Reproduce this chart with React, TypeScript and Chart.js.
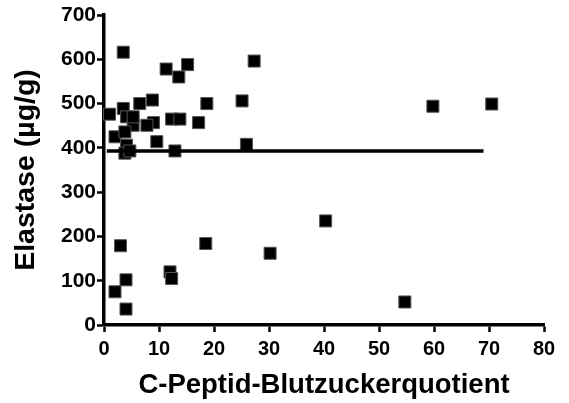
import React, { useEffect, useRef } from "react";
import { Chart, registerables } from "chart.js";

Chart.register(...registerables);

const xValues = [3.5, 11.3, 15.2, 13.6, 27.3, 18.7, 25.1, 17.2, 25.9, 1.0, 3.5, 6.5, 8.8, 4.1, 5.3, 9.0, 7.8, 12.3, 13.8, 2.0, 3.8, 9.6, 4.1, 3.8, 4.7, 12.9, 5.3, 59.8, 70.5, 54.7, 18.5, 30.2, 40.3, 3.0, 4.0, 2.0, 4.0, 12.0, 12.3];
const yValues = [616, 578, 588, 560, 596, 500, 506, 457, 408, 476, 489, 500, 508, 470, 451, 457, 451, 465, 465, 425, 436, 414, 406, 388, 393, 393, 470, 494, 499, 52, 184, 162, 235, 179, 102, 75, 36, 120, 105];
const lineX = [0.5, 69];
const lineY = [393, 393];
const xTicks = [0, 10, 20, 30, 40, 50, 60, 70, 80];
const yTicks = [0, 100, 200, 300, 400, 500, 600, 700];
const xTitle = "C-Peptid-Blutzuckerquotient";
const yTitle = "Elastase (µg/g)";

const FONT = "'Liberation Sans', Arial, Helvetica, sans-serif";

export default function App() {
  const ref = useRef<HTMLCanvasElement>(null);
  useEffect(() => {
    if (!ref.current) return;
    const chart = new Chart(ref.current, {
      type: "scatter",
      data: {
        datasets: [
          {
            type: "line",
            data: lineX.map((x, i) => ({ x, y: lineY[i] })),
            borderColor: "#000",
            borderWidth: 3.5,
            pointRadius: 0,
            fill: false,
          } as any,
          {
            data: xValues.map((x, i) => ({ x, y: yValues[i] })),
            pointStyle: "rect",
            pointRadius: 8.5,
            backgroundColor: "#000",
            borderColor: "#555",
            borderWidth: 1,
            clip: false,
          } as any,
        ],
      },
      options: {
        responsive: false,
        animation: false,
        layout: { padding: { top: 15, right: 25, left: 0, bottom: 0 } },
        plugins: { legend: { display: false }, tooltip: { enabled: false } },
        scales: {
          x: {
            type: "linear",
            min: 0,
            max: 80,
            afterFit: (s: any) => { s.height = 78; },
            afterBuildTicks: (s: any) => { s.ticks = xTicks.map((v) => ({ value: v })); },
            grid: { drawOnChartArea: false, drawTicks: true, tickLength: 7, tickWidth: 2.5, tickColor: "#000" },
            border: { display: true, color: "#000", width: 3.5 },
            ticks: { color: "#000", padding: 5, font: { family: FONT, size: 20, weight: "bold" }, maxRotation: 0 },
            title: { display: true, text: xTitle, color: "#000", padding: { top: 0, bottom: 1 }, font: { family: FONT, size: 27.5, weight: "bold", lineHeight: 1.2 } },
          },
          y: {
            type: "linear",
            min: 0,
            max: 700,
            afterFit: (s: any) => { s.width = 104; },
            afterBuildTicks: (s: any) => { s.ticks = yTicks.map((v) => ({ value: v })); },
            grid: { drawOnChartArea: false, drawTicks: true, tickLength: 7, tickWidth: 2.5, tickColor: "#000" },
            border: { display: true, color: "#000", width: 3.5 },
            ticks: { color: "#000", padding: 1, font: { family: FONT, size: 21, weight: "bold" } },
            title: { display: true, text: yTitle, color: "#000", padding: { top: 9, bottom: 0 }, font: { family: FONT, size: 28.5, weight: "bold", lineHeight: 1.2 } },
          },
        },
      } as any,
    });
    return () => chart.destroy();
  }, []);
  return (
    <div style={{ position: "absolute", left: 0, top: 0, width: 569, height: 403, background: "#fff" }}>
      <canvas ref={ref} width={569} height={403} />
    </div>
  );
}
